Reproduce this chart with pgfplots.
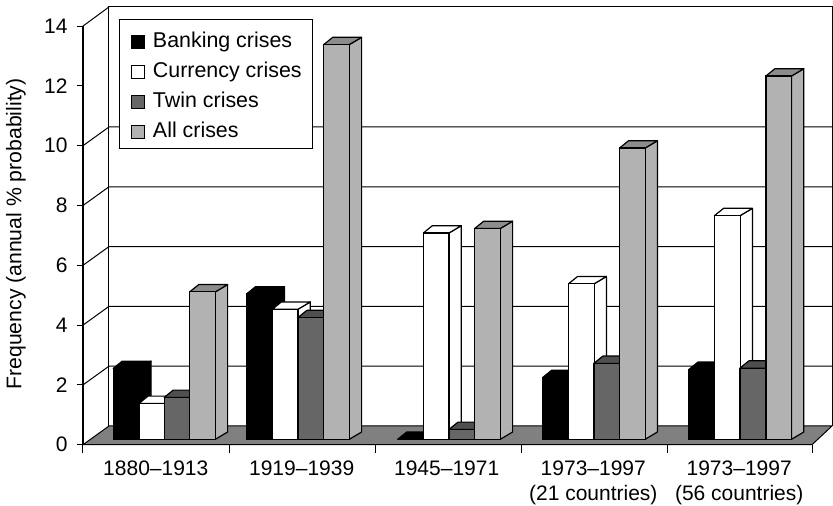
\documentclass[border=0pt]{standalone}
\usepackage{fontspec}
\setmainfont{Liberation Sans}
\usepackage{pgfplots}
\pgfplotsset{compat=1.18}

\definecolor{twinface}{HTML}{666666}
\definecolor{twintop}{HTML}{4F4F4F}
\definecolor{allface}{HTML}{B2B2B2}
\definecolor{alltop}{HTML}{8C8C8C}
\definecolor{floorgrey}{HTML}{808080}

% Depth of the bars: offsets of the back corners, and the lift of the bars above the front edge
\newcommand{\depthy}{0.244}
\newcommand{\backleft}{9}
\newcommand{\backright}{12.3}
\tikzset{onfloor/.style={yshift=5.4pt}}

% Top and side of one bar: centre of the front face, value, top colour, side colour
\newcommand{\barcap}[4]{%
  \pgfmathsetmacro{\xa}{#1-12.8}%
  \pgfmathsetmacro{\xb}{#1+12.8}%
  \pgfmathsetmacro{\xc}{\xa+\backleft}%
  \pgfmathsetmacro{\xd}{\xb+\backright}%
  \pgfmathsetmacro{\yb}{#2+\depthy}%
  \addplot[forget plot,onfloor,fill=#4,draw=black,line width=1.2pt,line join=round]
    coordinates {(\xb,#2)(\xd,\yb)(\xd,\depthy)(\xb,0)} -- cycle;
  \addplot[forget plot,onfloor,fill=#3,draw=black,line width=1.2pt,line join=round]
    coordinates {(\xa,#2)(\xc,\yb)(\xd,\yb)(\xb,#2)} -- cycle;
}

\begin{document}
\begin{tikzpicture}[x=1pt,y=1pt]
\useasboundingbox (-83pt,-61.3pt) rectangle (750pt,444.7pt);
\begin{axis}[
  at={(0pt,0pt)},anchor=south west,
  scale only axis,width=750pt,height=437.75pt,
  xmin=83,xmax=833,ymin=0,ymax=14.64,
  clip=false,
  axis x line*=bottom,axis y line*=left,
  axis line style={draw=none},
  tick align=outside,
  major tick length=6pt,minor tick length=8.5pt,
  ytick={0,2,...,14},
  xtick={155.8,301.7,446.7,593.3,739.2},
  minor xtick={83,229,375,521,667,812},
  every major x tick/.append style={draw=none},
  every minor x tick/.append style={draw=black,line width=1pt},
  every major y tick/.append style={draw=black,line width=1pt},
  xticklabels={1880--1913,1919--1939,1945--1971,{1973--1997\\(21 countries)},{1973--1997\\(56 countries)}},
  xticklabel style={align=center,anchor=north,yshift=-7pt},
  yticklabel style={xshift=-6pt},
  tick label style={font=\fontsize{21}{25}\selectfont},
  /pgf/number format/assume math mode=true,
  ylabel={Frequency (annual \% probability)},
  every axis y label/.style={at={(axis cs:16,7.05)},rotate=90,anchor=center,font=\fontsize{21.2}{25}\selectfont},
  legend style={at={(axis cs:119.3,14.237)},anchor=north west,draw=black,line width=1pt,fill=white,
    font=\fontsize{21.4}{25}\selectfont,inner xsep=8.5pt,inner ysep=4.35pt,
    nodes={inner sep=2pt,anchor=base west,text height=21.35pt,text depth=4.65pt}},
  legend cell align=left,
  legend image code/.code={\path (0pt,0pt);\draw[#1,line width=1pt] (2.7pt,-6.6pt) rectangle (15.7pt,6.4pt);\path (21.5pt,0pt);},
]
% Back wall with its gridlines, and the left wall
\addplot[forget plot,black,line width=1pt] coordinates {(109,0.626)(109,14.64)(832,14.64)(832,0.626)};
\addplot[forget plot,black,line width=1pt] coordinates {(83,0)(83,14)(109,14.64)};
\pgfplotsinvokeforeach{2,4,6,8,10}{
  \addplot[forget plot,black,line width=1pt] coordinates {(83,#1)(109,#1+0.626)(832,#1+0.626)};
}
% Floor
\addplot[forget plot,fill=floorgrey,draw=black,line width=1pt] coordinates {(83,0)(812,0)(832,0.626)(109,0.626)} -- cycle;

% Banking crises
\barcap{126}{2.37}{black}{black}
\barcap{259.3}{4.86}{black}{black}
\barcap{410.5}{0}{black}{black}
\barcap{555.6}{2.07}{black}{black}
\barcap{701.8}{2.34}{black}{black}
\addplot[ybar,bar shift=0pt,bar width=25.6pt,onfloor,fill=black,draw=black,line width=1.2pt]
  coordinates {(126,2.37)(259.3,4.86)(410.5,0)(555.6,2.07)(701.8,2.34)};
\addlegendentry{Banking crises}

% Currency crises
\barcap{151.8}{1.2}{white}{white}
\barcap{285.2}{4.35}{white}{white}
\barcap{436.2}{6.9}{white}{white}
\barcap{581.3}{5.2}{white}{white}
\barcap{727.3}{7.48}{white}{white}
\addplot[ybar,bar shift=0pt,bar width=25.6pt,onfloor,fill=white,draw=black,line width=1.2pt]
  coordinates {(151.8,1.2)(285.2,4.35)(436.2,6.9)(581.3,5.2)(727.3,7.48)};
\addlegendentry{Currency crises}

% Twin crises
\barcap{177}{1.4}{twintop}{twinface}
\barcap{310.7}{4.07}{twintop}{twinface}
\barcap{461.8}{0.33}{twintop}{twinface}
\barcap{606.7}{2.54}{twintop}{twinface}
\barcap{752.7}{2.38}{twintop}{twinface}
\addplot[ybar,bar shift=0pt,bar width=25.6pt,onfloor,fill=twinface,draw=black,line width=1.2pt]
  coordinates {(177,1.4)(310.7,4.07)(461.8,0.33)(606.7,2.54)(752.7,2.38)};
\addlegendentry{Twin crises}

% All crises
\barcap{202.5}{4.93}{alltop}{allface}
\barcap{336.5}{13.2}{alltop}{allface}
\barcap{487.5}{7.05}{alltop}{allface}
\barcap{632.3}{9.74}{alltop}{allface}
\barcap{778.7}{12.15}{alltop}{allface}
\addplot[ybar,bar shift=0pt,bar width=25.6pt,onfloor,fill=allface,draw=black,line width=1.2pt]
  coordinates {(202.5,4.93)(336.5,13.2)(487.5,7.05)(632.3,9.74)(778.7,12.15)};
\addlegendentry{All crises}

% Front edges of the chart
\addplot[forget plot,black,line width=1.2pt] coordinates {(83,14)(83,0)(812,0)};
\end{axis}
\end{tikzpicture}
\end{document}
